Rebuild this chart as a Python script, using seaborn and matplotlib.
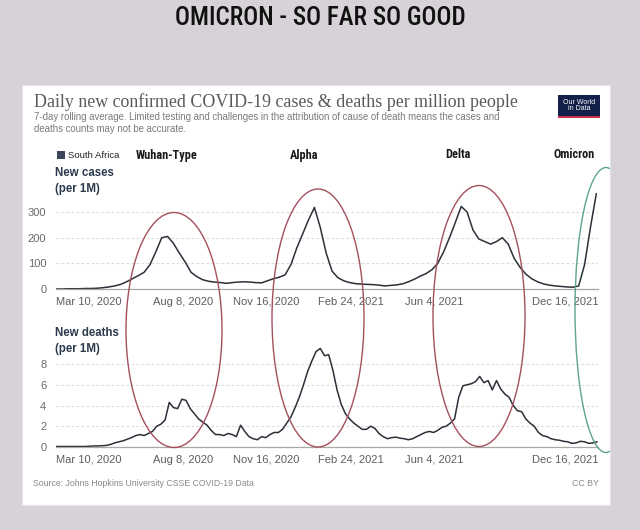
import pandas as pd
import matplotlib
matplotlib.use("Agg")
import matplotlib.pyplot as plt
import seaborn as sns
from matplotlib.patches import Rectangle, Ellipse

# South Africa, daily new cases per million (7-day avg), one value per week from Mar 10, 2020
cases_per_m = [0, 0, 1, 1, 1, 2, 2, 3, 5, 8,
               12, 18, 28, 40, 52, 65, 95, 145, 200, 205,
               178, 140, 105, 65, 48, 36, 30, 27, 25, 22,
               25, 27, 28, 27, 25, 24, 32, 40, 46, 55,
               95, 160, 215, 270, 318, 240, 140, 70, 44, 32,
               25, 21, 19, 18, 17, 15, 12, 14, 16, 20,
               28, 38, 50, 60, 75, 100, 145, 200, 260, 322,
               300, 230, 195, 185, 175, 185, 200, 175, 120, 85,
               58, 40, 28, 20, 15, 12, 10, 8, 7, 12,
               95, 240, 372]

# daily new deaths per million (7-day avg), one value every 5 days from Mar 10, 2020
deaths_per_m = [0.05, 0.05, 0.05, 0.05, 0.05, 0.05, 0.05, 0.05, 0.08, 0.1,
                0.1, 0.12, 0.15, 0.25, 0.4, 0.5, 0.6, 0.75, 0.9, 1.1,
                1.2, 1.1, 1.3, 1.5, 2.0, 2.2, 2.6, 4.3, 3.8, 3.7,
                4.6, 4.5, 3.7, 3.2, 2.7, 2.4, 2.1, 1.6, 1.2, 1.2,
                1.1, 1.3, 1.2, 1.0, 2.1, 1.5, 1.0, 0.8, 0.7, 1.0,
                0.9, 1.2, 1.4, 1.4, 1.7, 2.3, 2.9, 3.8, 4.8, 6.0,
                7.3, 8.3, 9.2, 9.5, 8.8, 8.9, 7.4, 5.5, 4.1, 3.2,
                2.7, 2.3, 2.0, 1.7, 1.7, 2.0, 1.8, 1.3, 1.0, 0.8,
                0.9, 0.95, 0.85, 0.8, 0.7, 0.8, 1.0, 1.2, 1.4, 1.5,
                1.4, 1.6, 1.9, 2.0, 2.3, 2.7, 4.8, 5.9, 6.0, 6.1,
                6.3, 6.8, 6.2, 6.4, 5.5, 6.4, 5.6, 5.1, 4.8, 4.0,
                3.5, 3.4, 2.7, 2.3, 2.0, 1.4, 1.1, 1.0, 0.8, 0.7,
                0.65, 0.55, 0.5, 0.35, 0.4, 0.55, 0.5, 0.35, 0.4, 0.5]

tick_dates = ["2020-03-10", "2020-08-08", "2020-11-16", "2021-02-24", "2021-06-04", "2021-12-16"]
tick_labels = ["Mar 10, 2020", "Aug 8, 2020", "Nov 16, 2020", "Feb 24, 2021", "Jun 4, 2021", "Dec 16, 2021"]
case_ticks = [0, 100, 200, 300]
death_ticks = [0, 2, 4, 6, 8]
variants = ["Wuhan-Type", "Alpha", "Delta", "Omicron"]
variant_dates = ["2020-07-20", "2020-12-31", "2021-07-02", "2021-11-17"]

cases = pd.DataFrame({"date": pd.date_range("2020-03-10", periods=len(cases_per_m), freq="7D"),
                      "value": cases_per_m})
deaths = pd.DataFrame({"date": pd.date_range("2020-03-10", periods=len(deaths_per_m), freq="5D"),
                       "value": deaths_per_m})

sns.set_style("white")
plt.rcParams["font.family"] = ["Liberation Sans", "DejaVu Sans"]
narrow = ["Roboto Condensed", "Liberation Sans Narrow", "Roboto", "DejaVu Sans"]

W, H = 640, 530
def fx(px):
    return px / W
def fy(py):
    return 1 - py / H

fig = plt.figure(figsize=(6.4, 5.3), dpi=100, facecolor="#d7d2d8")

# white card
card = Rectangle((fx(22), fy(505)), fx(610) - fx(22), (505 - 85) / H, transform=fig.transFigure,
                 facecolor="white", edgecolor="#e6e3e6", lw=0.8, zorder=-10)
fig.add_artist(card)

fig.text(0.5, fy(18), "OMICRON - SO FAR SO GOOD", ha="center", va="center", fontsize=18,
         family=narrow, fontstretch="condensed", fontweight="medium", color="#111111")

fig.text(fx(34), fy(102.5), "Daily new confirmed COVID-19 cases & deaths per million people",
         ha="left", va="center", fontsize=12.9, family=["Liberation Serif", "DejaVu Serif"], color="#5a5a5a")
fig.text(fx(34), fy(117.5), "7-day rolling average. Limited testing and challenges in the attribution of cause of death means the cases and",
         ha="left", va="center", fontsize=6.9, color="#7a7a7a")
fig.text(fx(34), fy(129), "deaths counts may not be accurate.", ha="left", va="center", fontsize=6.9, color="#7a7a7a")

# OWID logo box
fig.add_artist(Rectangle((fx(558), fy(118)), 42 / W, 23 / H, transform=fig.transFigure,
                         facecolor="#12204a", edgecolor="none"))
fig.add_artist(Rectangle((fx(558), fy(118)), 42 / W, 2.2 / H, transform=fig.transFigure,
                         facecolor="#c93546", edgecolor="none"))
fig.text(fx(579), fy(105.5), "Our World\nin Data", ha="center", va="center", fontsize=5,
         color="white", linespacing=0.95)

# legend
fig.add_artist(Rectangle((fx(57), fy(159)), 8 / W, 8 / H, transform=fig.transFigure,
                         facecolor="#3b4658", edgecolor="none"))
fig.text(fx(68), fy(155), "South Africa", ha="left", va="center", fontsize=6.8, color="#222222")

line_color = "#2b3039"
axes = []
for top, bottom, df, ymax, yticks in [(189, 289, cases, 390, case_ticks),
                                      (343.25, 447, deaths, 10, death_ticks)]:
    ax = fig.add_axes([fx(56), fy(bottom), fx(598) - fx(56), (bottom - top) / H])
    ax.patch.set_alpha(0)
    sns.lineplot(data=df, x="date", y="value", ax=ax, color=line_color, linewidth=1.1)
    ax.set_xlim(pd.Timestamp("2020-03-10"), pd.Timestamp("2021-12-16"))
    ax.set_ylim(0, ymax)
    ax.set_yticks(yticks)
    ax.set_yticklabels([str(t) for t in yticks])
    ax.set_xticks(pd.to_datetime(tick_dates))
    ax.set_xticklabels(tick_labels)
    labs = ax.get_xticklabels()
    labs[0].set_ha("left")
    labs[-1].set_ha("right")
    ax.set_xlabel("")
    ax.set_ylabel("")
    for s in ["top", "right", "left"]:
        ax.spines[s].set_visible(False)
    ax.spines["bottom"].set_color("#a8a8a8")
    ax.spines["bottom"].set_linewidth(0.9)
    ax.yaxis.grid(True, color="#dcdcdc", linestyle=(0, (2.5, 2)), linewidth=0.8)
    ax.tick_params(axis="y", length=0, pad=7, labelsize=8, labelcolor="#6a6a6a")
    ax.tick_params(axis="x", length=3.5, width=0.8, color="#a8a8a8", pad=2, labelsize=8, labelcolor="#5e5e5e")
    axes.append(ax)

ax1, ax2 = axes
fig.text(fx(55), fy(181), "New cases\n(per 1M)", ha="left", va="center", fontsize=8.3,
         fontweight="bold", color="#2c3a4d", linespacing=1.45)
fig.text(fx(55), fy(341), "New deaths\n(per 1M)", ha="left", va="center", fontsize=8.3,
         fontweight="bold", color="#2c3a4d", linespacing=1.45)

# variant labels above the cases panel
for name, d in zip(variants, variant_dates):
    ax1.text(pd.Timestamp(d), 1.34, name, transform=ax1.get_xaxis_transform(), ha="center", va="center",
             fontsize=8.8, fontweight="bold", family=narrow, fontstretch="condensed", color="#1a1a1a")

fig.text(fx(33), fy(484), "Source: Johns Hopkins University CSSE COVID-19 Data", ha="left", va="center",
         fontsize=6.3, color="#8a8a8a")
fig.text(fx(599), fy(484), "CC BY", ha="right", va="center", fontsize=6.3, color="#8a8a8a")

# hand-drawn rings around each wave
rings = [(174, 330, 96, 235, "#a4505c"), (318, 318, 92, 258, "#a4505c"),
         (479, 316, 92, 261, "#a4505c"), (606, 310, 62, 285, "#5fa58a")]
for cx, cy, w, h, col in rings:
    e = Ellipse((fx(cx), fy(cy)), w / W, h / H, transform=fig.transFigure, fill=False,
                edgecolor=col, linewidth=1.0, zorder=20)
    fig.add_artist(e)
    e.set_clip_path(card)

fig.savefig("out.png", dpi=100, facecolor=fig.get_facecolor())
